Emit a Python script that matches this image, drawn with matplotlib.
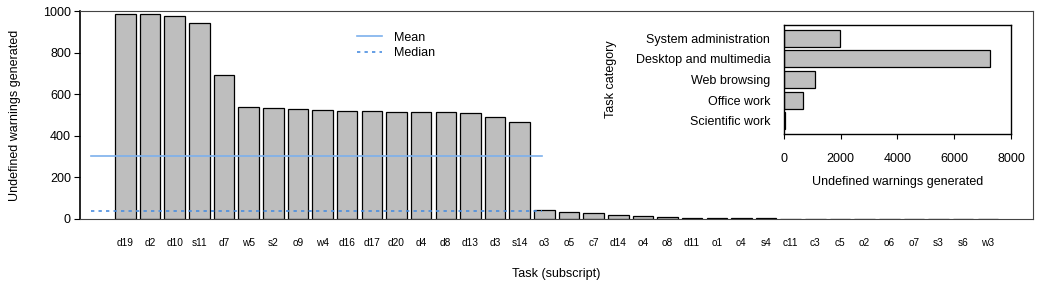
import numpy as np
import matplotlib
matplotlib.use("Agg")
import matplotlib.pyplot as plt

plt.rcParams['font.family'] = ['Liberation Sans', 'DejaVu Sans']

tasks = ["d19", "d2", "d10", "s11", "d7", "w5", "s2", "o9", "w4", "d16", "d17", "d20",
         "d4", "d8", "d13", "d3", "s14", "o3", "o5", "c7", "d14", "o4", "o8", "d11",
         "o1", "c4", "s4", "c11", "c3", "c5", "o2", "o6", "o7", "s3", "s6", "w3"]
warnings = [987, 986, 976, 941, 692, 537, 532, 527, 526, 519, 518, 513,
            513, 513, 510, 489, 468, 43, 34, 30, 19, 13, 10, 6,
            5, 4, 3, 2, 1, 1, 1, 1, 1, 1, 1, 1]

categories = ["Scientific work", "Office work", "Web browsing",
              "Desktop and multimedia", "System administration"]
category_totals = [45, 655, 1075, 7250, 1970]

mean_val = np.mean(warnings)
median_val = np.median(warnings)

fig = plt.figure(figsize=(10.39, 2.85), dpi=100)
ax = fig.add_axes([0.077, 0.2316, 0.917, 0.7298])

x = np.arange(len(tasks)) * 1.2 + 0.7
ax.bar(x, warnings, width=1.0, color="#BEBEBE", edgecolor="black", linewidth=0.9, zorder=2)
ax.set_xlim(-1.515, 44.89)
ax.set_ylim(0, 1000)

ax.plot([-1.0, 21.0], [mean_val, mean_val], color="#7DB0EC", lw=1.2, zorder=3, label="Mean")
ax.plot([-1.0, 21.0], [median_val, median_val], color="#4A8EE0", lw=1.2, ls=(0, (2, 2.5)),
        zorder=3, label="Median")

ax.set_xticks(x)
ax.set_xticklabels(tasks, fontsize=7.3)
ax.tick_params(axis="x", length=0, pad=14)
ax.set_yticks([0, 200, 400, 600, 800, 1000])
ax.tick_params(axis="y", labelsize=9, length=4.5, width=0.8, pad=2)
for s in ["left", "top", "right", "bottom"]:
    ax.spines[s].set_linewidth(0.8)
    ax.spines[s].set_color("#444444")
ax.spines["left"].set_color("black")
ax.spines["left"].set_linewidth(1.2)
ax.set_xlabel("Task (subscript)", fontsize=9, labelpad=14)
ax.set_ylabel("Undefined warnings generated", fontsize=9, labelpad=16)

leg = ax.legend(loc="upper left", bbox_to_anchor=(0.285, 0.925), frameon=False, fontsize=9,
                handlelength=2.0, handletextpad=1.0, labelspacing=0.3, borderaxespad=0)

# inset
ax2 = fig.add_axes([0.7546, 0.5298, 0.2184, 0.3825])
y = np.arange(len(categories)) * 1.2 + 0.7
ax2.barh(y, category_totals, height=1.0, color="#BEBEBE", edgecolor="black", linewidth=0.9)
ax2.set_ylim(-0.07, 6.27)
ax2.set_xlim(0, 8000)
ax2.set_yticks(y)
ax2.set_yticklabels(categories, fontsize=9)
ax2.tick_params(axis="y", length=0, pad=10)
ax2.set_xticks([0, 2000, 4000, 6000, 8000])
ax2.tick_params(axis="x", labelsize=9, length=3.5, width=0.8, pad=10)
for s in ax2.spines.values():
    s.set_linewidth(1.0)
ax2.set_xlabel("Undefined warnings generated", fontsize=9, labelpad=8)
ax2.set_ylabel("Task category", fontsize=9, labelpad=13)

fig.savefig("out.png", dpi=100)
